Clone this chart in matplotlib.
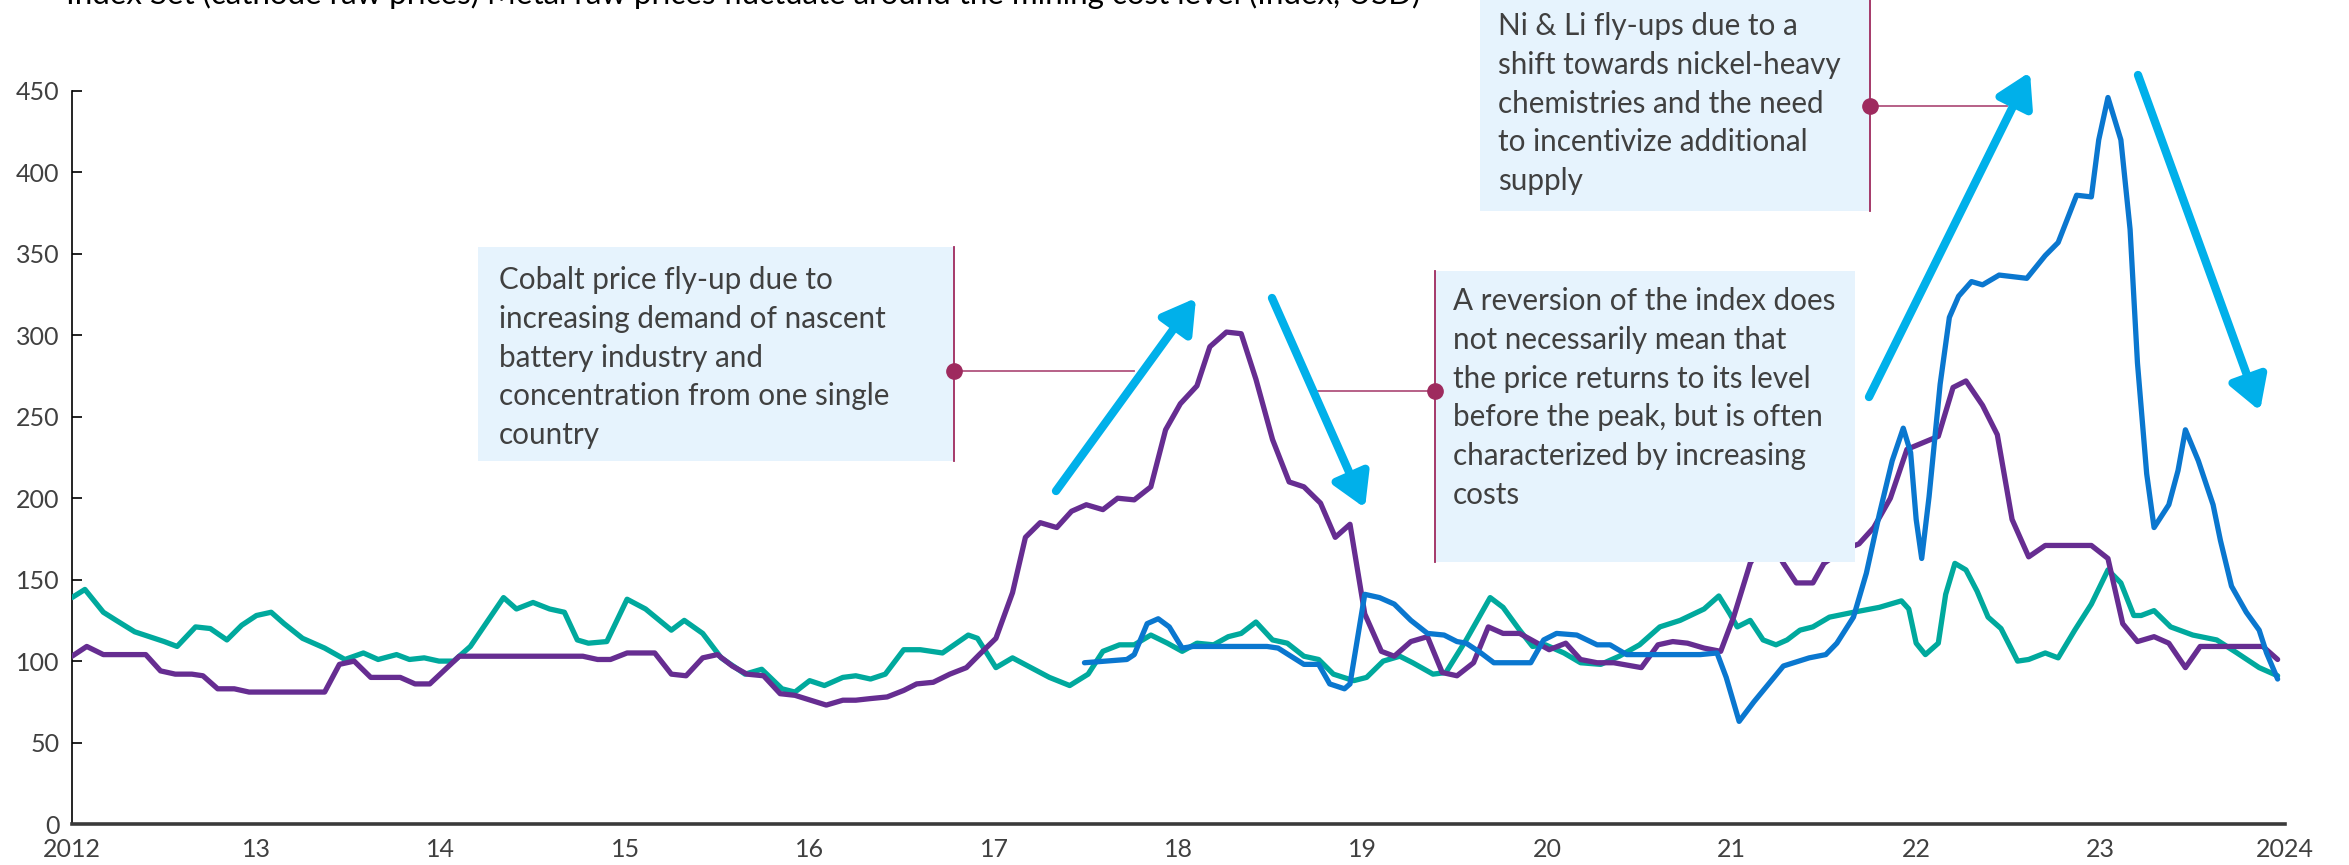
import matplotlib
matplotlib.use("Agg")
import matplotlib.pyplot as plt
from matplotlib.patches import Rectangle, FancyArrowPatch
from matplotlib.lines import Line2D

plt.rcParams['font.family'] = ['Lato', 'DejaVu Sans']

# ---- data ----
teal_x = [2012.00, 2012.07, 2012.17, 2012.24, 2012.34, 2012.50, 2012.57, 2012.67, 2012.75, 2012.84,
          2012.92, 2013.00, 2013.08, 2013.15, 2013.25, 2013.37, 2013.48, 2013.58, 2013.66, 2013.76,
          2013.83, 2013.91, 2013.99, 2014.07, 2014.16, 2014.25, 2014.34, 2014.41, 2014.50, 2014.59,
          2014.67, 2014.74, 2014.80, 2014.90, 2015.01, 2015.11, 2015.25, 2015.32, 2015.42, 2015.52,
          2015.65, 2015.74, 2015.85, 2015.92, 2016.00, 2016.08, 2016.18, 2016.25, 2016.33, 2016.41,
          2016.51, 2016.60, 2016.72, 2016.86, 2016.91, 2017.01, 2017.10, 2017.20, 2017.30, 2017.41,
          2017.51, 2017.59, 2017.68, 2017.76, 2017.85, 2017.94, 2018.02, 2018.10, 2018.19, 2018.27,
          2018.34, 2018.42, 2018.51, 2018.59, 2018.68, 2018.76, 2018.84, 2018.95, 2019.02, 2019.11,
          2019.20, 2019.27, 2019.38, 2019.45, 2019.56, 2019.69, 2019.76, 2019.85, 2019.92, 2019.99,
          2020.09, 2020.18, 2020.29, 2020.39, 2020.50, 2020.61, 2020.72, 2020.85, 2020.93, 2020.99,
          2021.03, 2021.10, 2021.17, 2021.24, 2021.30, 2021.37, 2021.44, 2021.53, 2021.66, 2021.80,
          2021.92, 2021.96, 2022.00, 2022.05, 2022.12, 2022.16, 2022.21, 2022.27, 2022.33, 2022.39,
          2022.46, 2022.55, 2022.61, 2022.70, 2022.77, 2022.86, 2022.95, 2023.04, 2023.11, 2023.18,
          2023.22, 2023.29, 2023.38, 2023.50, 2023.63, 2023.74, 2023.86, 2023.96]
teal_y = [139, 144, 130, 125, 118, 112, 109, 121, 120, 113,
          122, 128, 130, 123, 114, 108, 101, 105, 101, 104,
          101, 102, 100, 100, 109, 124, 139, 132, 136, 132,
          130, 113, 111, 112, 138, 132, 119, 125, 117, 102,
          92, 95, 83, 81, 88, 85, 90, 91, 89, 92,
          107, 107, 105, 116, 114, 96, 102, 96, 90, 85,
          92, 106, 110, 110, 116, 111, 106, 111, 110, 115,
          117, 124, 113, 111, 103, 101, 92, 88, 90, 100,
          103, 99, 92, 93, 113, 139, 133, 119, 109, 110,
          105, 99, 98, 103, 110, 121, 125, 132, 140, 129,
          121, 125, 113, 110, 113, 119, 121, 127, 130, 133,
          137, 132, 111, 104, 111, 141, 160, 156, 143, 127,
          120, 100, 101, 105, 102, 119, 135, 156, 148, 128,
          128, 131, 121, 116, 113, 105, 96, 91]

purple_x = [2012.00, 2012.08, 2012.17, 2012.40, 2012.48, 2012.56, 2012.65, 2012.71, 2012.79, 2012.88,
            2012.96, 2013.37, 2013.45, 2013.53, 2013.62, 2013.78, 2013.86, 2013.94, 2014.10, 2014.77,
            2014.85, 2014.92, 2015.01, 2015.16, 2015.25, 2015.33, 2015.42, 2015.50, 2015.58, 2015.66,
            2015.75, 2015.84, 2015.92, 2016.09, 2016.18, 2016.25, 2016.33, 2016.42, 2016.51, 2016.58,
            2016.67, 2016.76, 2016.85, 2016.92, 2017.01, 2017.10, 2017.17, 2017.25, 2017.34, 2017.42,
            2017.50, 2017.59, 2017.67, 2017.76, 2017.85, 2017.93, 2018.01, 2018.10, 2018.17, 2018.26,
            2018.34, 2018.42, 2018.51, 2018.60, 2018.68, 2018.77, 2018.85, 2018.93, 2019.01, 2019.10,
            2019.17, 2019.26, 2019.35, 2019.43, 2019.51, 2019.60, 2019.68, 2019.76, 2019.85, 2019.93,
            2020.01, 2020.10, 2020.18, 2020.27, 2020.36, 2020.51, 2020.60, 2020.68, 2020.76, 2020.85,
            2020.94, 2021.01, 2021.10, 2021.19, 2021.28, 2021.35, 2021.44, 2021.50, 2021.60, 2021.69,
            2021.77, 2021.86, 2021.95, 2022.12, 2022.20, 2022.27, 2022.36, 2022.44, 2022.52, 2022.61,
            2022.70, 2022.95, 2023.04, 2023.12, 2023.20, 2023.29, 2023.37, 2023.46, 2023.54, 2023.88,
            2023.96]
purple_y = [103, 109, 104, 104, 94, 92, 92, 91, 83, 83,
            81, 81, 98, 100, 90, 90, 86, 86, 103, 103,
            101, 101, 105, 105, 92, 91, 102, 104, 97, 92,
            91, 80, 79, 73, 76, 76, 77, 78, 82, 86,
            87, 92, 96, 104, 114, 142, 176, 185, 182, 192,
            196, 193, 200, 199, 207, 242, 258, 269, 293, 302,
            301, 273, 236, 210, 207, 197, 176, 184, 129, 106,
            103, 112, 115, 93, 91, 99, 121, 117, 117, 112,
            107, 111, 101, 99, 99, 96, 110, 112, 111, 108,
            106, 127, 160, 178, 160, 148, 148, 160, 168, 172,
            182, 200, 230, 238, 268, 272, 257, 239, 187, 164,
            171, 171, 163, 123, 112, 115, 111, 96, 109, 109,
            101]

blue_x = [2017.49, 2017.72, 2017.76, 2017.83, 2017.89, 2017.95, 2018.02, 2018.08, 2018.48, 2018.54,
          2018.61, 2018.68, 2018.76, 2018.82, 2018.90, 2018.93, 2019.01, 2019.09, 2019.17, 2019.26,
          2019.35, 2019.44, 2019.51, 2019.56, 2019.64, 2019.71, 2019.82, 2019.91, 2019.98, 2020.05,
          2020.16, 2020.27, 2020.34, 2020.43, 2020.50, 2020.83, 2020.92, 2020.97, 2021.04, 2021.12,
          2021.28, 2021.42, 2021.51, 2021.57, 2021.66, 2021.73, 2021.80, 2021.87, 2021.93, 2021.97,
          2022.00, 2022.03, 2022.07, 2022.13, 2022.18, 2022.23, 2022.30, 2022.36, 2022.45, 2022.60,
          2022.70, 2022.77, 2022.87, 2022.95, 2022.99, 2023.04, 2023.11, 2023.16, 2023.20, 2023.25,
          2023.29, 2023.37, 2023.42, 2023.46, 2023.53, 2023.61, 2023.65, 2023.71, 2023.79, 2023.86,
          2023.90, 2023.96]
blue_y = [99, 101, 104, 123, 126, 121, 108, 109, 109, 108,
          103, 98, 98, 86, 83, 86, 141, 139, 135, 125,
          117, 116, 112, 111, 105, 99, 99, 99, 113, 117,
          116, 110, 110, 104, 104, 104, 105, 90, 63, 75,
          97, 102, 104, 111, 127, 154, 190, 223, 243, 228,
          187, 163, 201, 270, 311, 324, 333, 331, 337, 335,
          349, 357, 386, 385, 420, 446, 420, 365, 283, 215,
          182, 196, 217, 242, 223, 196, 174, 146, 130, 119,
          105, 89]

year_ticks = list(range(2012, 2025))
year_labels = ['2012', '13', '14', '15', '16', '17', '18', '19', '20', '21', '22', '23', '2024']
value_ticks = list(range(0, 451, 50))

title = "Index Set (cathode raw prices) Metal raw prices fluctuate around the mining cost level (Index, USD)"
note_cobalt = ("Cobalt price fly-up due to\nincreasing demand of nascent\nbattery industry and\n"
               "concentration from one single\ncountry")
note_reversion = ("A reversion of the index does\nnot necessarily mean that\nthe price returns to its level\n"
                  "before the peak, but is often\ncharacterized by increasing\ncosts")
note_nili = ("Ni & Li fly-ups due to a\nshift towards nickel-heavy\nchemistries and the need\n"
             "to incentivize additional\nsupply")

TEAL = '#00A99D'
PURPLE = '#662D91'
BLUE = '#0A77CF'
ARROW = '#00B0EA'
BOXC = '#E6F3FD'
PLUM = '#9E2A5E'
TXT = '#404040'

W, H = 2349, 865
fig = plt.figure(figsize=(W / 100, H / 100), dpi=100)


def fp(x, y):
    # pixel position (from top-left) -> figure fraction
    return x / W, 1 - y / H


ax = fig.add_axes([72 / W, (H - 824) / H, (2285 - 72) / W, (824 - 91) / H])
ax.plot(teal_x, teal_y, color=TEAL, lw=3.8, solid_joinstyle='round', solid_capstyle='round', zorder=3)
ax.plot(purple_x, purple_y, color=PURPLE, lw=3.8, solid_joinstyle='round', solid_capstyle='round', zorder=4)
ax.plot(blue_x, blue_y, color=BLUE, lw=3.8, solid_joinstyle='round', solid_capstyle='round', zorder=5)

ax.set_xlim(2012, 2024)
ax.set_ylim(0, 450)
ax.set_xticks(year_ticks)
ax.set_xticklabels(year_labels)
ax.set_yticks(value_ticks)
ax.tick_params(axis='x', length=0, pad=10, labelsize=18, labelcolor=TXT)
ax.tick_params(axis='y', direction='in', length=7, width=1.2, pad=9, labelsize=18, labelcolor=TXT)
for s in ['top', 'right']:
    ax.spines[s].set_visible(False)
ax.spines['left'].set_linewidth(1.2)
ax.spines['bottom'].set_linewidth(2.6)
ax.spines['bottom'].set_color('#3a3a3a')

# title sits mostly above the top edge, as in the reference
fig.text(66 / W, 1 - 4 / H, title, fontsize=22.5, color='black', ha='left', va='baseline')


def note_box(x0, y0, x1, y1, text, tx, ty):
    (fx0, fy1), (fx1, fy0) = fp(x0, y0), fp(x1, y1)
    fig.add_artist(Rectangle((fx0, fy0), fx1 - fx0, fy1 - fy0, transform=fig.transFigure,
                             facecolor=BOXC, edgecolor='none', zorder=10))
    fig.text(tx / W, 1 - ty / H, text, fontsize=21.3, color=TXT, ha='left', va='top',
             linespacing=1.47, zorder=11)


def connector(xe, y0, y1, xd, yd, xend):
    fig.add_artist(Line2D([xe / W, xe / W], [1 - y0 / H, 1 - y1 / H], transform=fig.transFigure,
                          color=PLUM, lw=1.3, zorder=12))
    fig.add_artist(Line2D([xd / W, xend / W], [1 - yd / H, 1 - yd / H], transform=fig.transFigure,
                          color=PLUM, lw=1.3, alpha=0.8, zorder=12))
    fig.add_artist(Line2D([xd / W], [1 - yd / H], transform=fig.transFigure, marker='o', ms=11,
                          color=PLUM, zorder=13))


note_box(478, 247, 954, 461, note_cobalt, 499, 266)
connector(954, 247, 461, 954, 371, 1134)

note_box(1435, 271, 1855, 562, note_reversion, 1453, 287)
connector(1435, 271, 562, 1435, 391, 1318)

note_box(1480, -5, 1870, 211, note_nili, 1498, 12)
connector(1870, -5, 211, 1870, 106, 2007)

# trend arrows
arrows = [((1056, 491), (1196, 298)),
          ((1272, 298), (1365, 508)),
          ((1869, 397), (2030, 72)),
          ((2138, 75), (2260, 411))]
for (a, b) in arrows:
    fig.add_artist(FancyArrowPatch(fp(*a), fp(*b), transform=fig.transFigure,
                                   arrowstyle='-|>,head_length=1.1,head_width=0.65',
                                   mutation_scale=18, lw=6, color=ARROW,
                                   shrinkA=0, shrinkB=0, zorder=14))

fig.savefig('out.png', dpi=100)
